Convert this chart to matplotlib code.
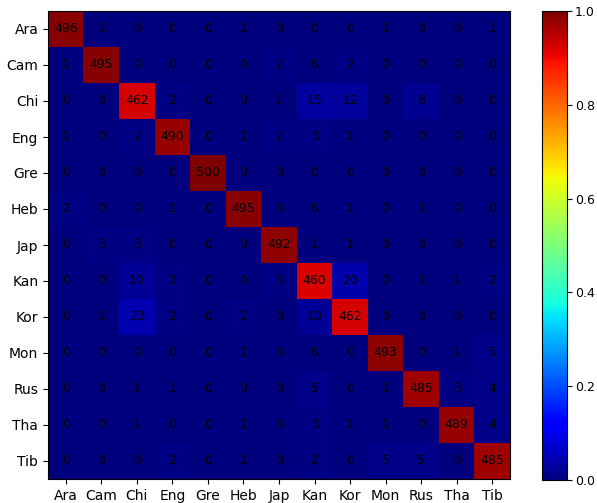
import numpy as np
import matplotlib
matplotlib.use("Agg")
import matplotlib.pyplot as plt

labels = ["Ara", "Cam", "Chi", "Eng", "Gre", "Heb", "Jap",
          "Kan", "Kor", "Mon", "Rus", "Tha", "Tib"]

# confusion counts, rows = true class, cols = predicted class
row_ara = [496, 1, 0, 0, 0, 1, 0, 0, 0, 1, 0, 0, 1]
row_cam = [1, 495, 0, 0, 0, 0, 2, 0, 2, 0, 0, 0, 0]
row_chi = [0, 0, 462, 2, 0, 0, 1, 15, 12, 0, 8, 0, 0]
row_eng = [1, 0, 2, 490, 0, 1, 2, 3, 1, 0, 0, 0, 0]
row_gre = [0, 0, 0, 0, 500, 0, 0, 0, 0, 0, 0, 0, 0]
row_heb = [2, 0, 0, 1, 0, 495, 0, 0, 1, 0, 1, 0, 0]
row_jap = [0, 3, 3, 0, 0, 0, 492, 1, 1, 0, 0, 0, 0]
row_kan = [0, 0, 10, 3, 0, 0, 3, 460, 20, 0, 1, 1, 2]
row_kor = [0, 1, 23, 2, 0, 2, 0, 10, 462, 0, 0, 0, 0]
row_mon = [0, 0, 0, 0, 0, 1, 0, 0, 0, 493, 0, 1, 5]
row_rus = [0, 0, 1, 1, 0, 0, 0, 5, 0, 1, 485, 3, 4]
row_tha = [0, 0, 1, 0, 0, 1, 0, 3, 1, 1, 0, 489, 4]
row_tib = [0, 0, 0, 2, 0, 1, 0, 2, 0, 5, 5, 0, 485]

cm = np.array([row_ara, row_cam, row_chi, row_eng, row_gre, row_heb, row_jap,
               row_kan, row_kor, row_mon, row_rus, row_tha, row_tib])
cm_norm = cm / cm.sum(axis=1, keepdims=True)

fig = plt.figure(figsize=(5.97, 5.03), dpi=100)
ax = fig.add_axes([48 / 597, 24 / 503, 462 / 597, 468 / 503])
cax = fig.add_axes([542 / 597, 23 / 503, 25 / 597, 469 / 503])

im = ax.imshow(cm_norm, cmap="jet", vmin=0, vmax=1, aspect="auto")
for i in range(len(labels)):
    for j in range(len(labels)):
        ax.text(j, i, str(cm[i, j]), ha="center", va="center",
                color="black", fontsize=9)

ax.set_xticks(range(len(labels)))
ax.set_yticks(range(len(labels)))
ax.set_xticklabels(labels, fontsize=10)
ax.set_yticklabels(labels, fontsize=10)

cb = fig.colorbar(im, cax=cax)
cb.set_ticks([0.0, 0.2, 0.4, 0.6, 0.8, 1.0])
cb.ax.tick_params(labelsize=9, pad=2)

fig.savefig("out.png", dpi=100)
